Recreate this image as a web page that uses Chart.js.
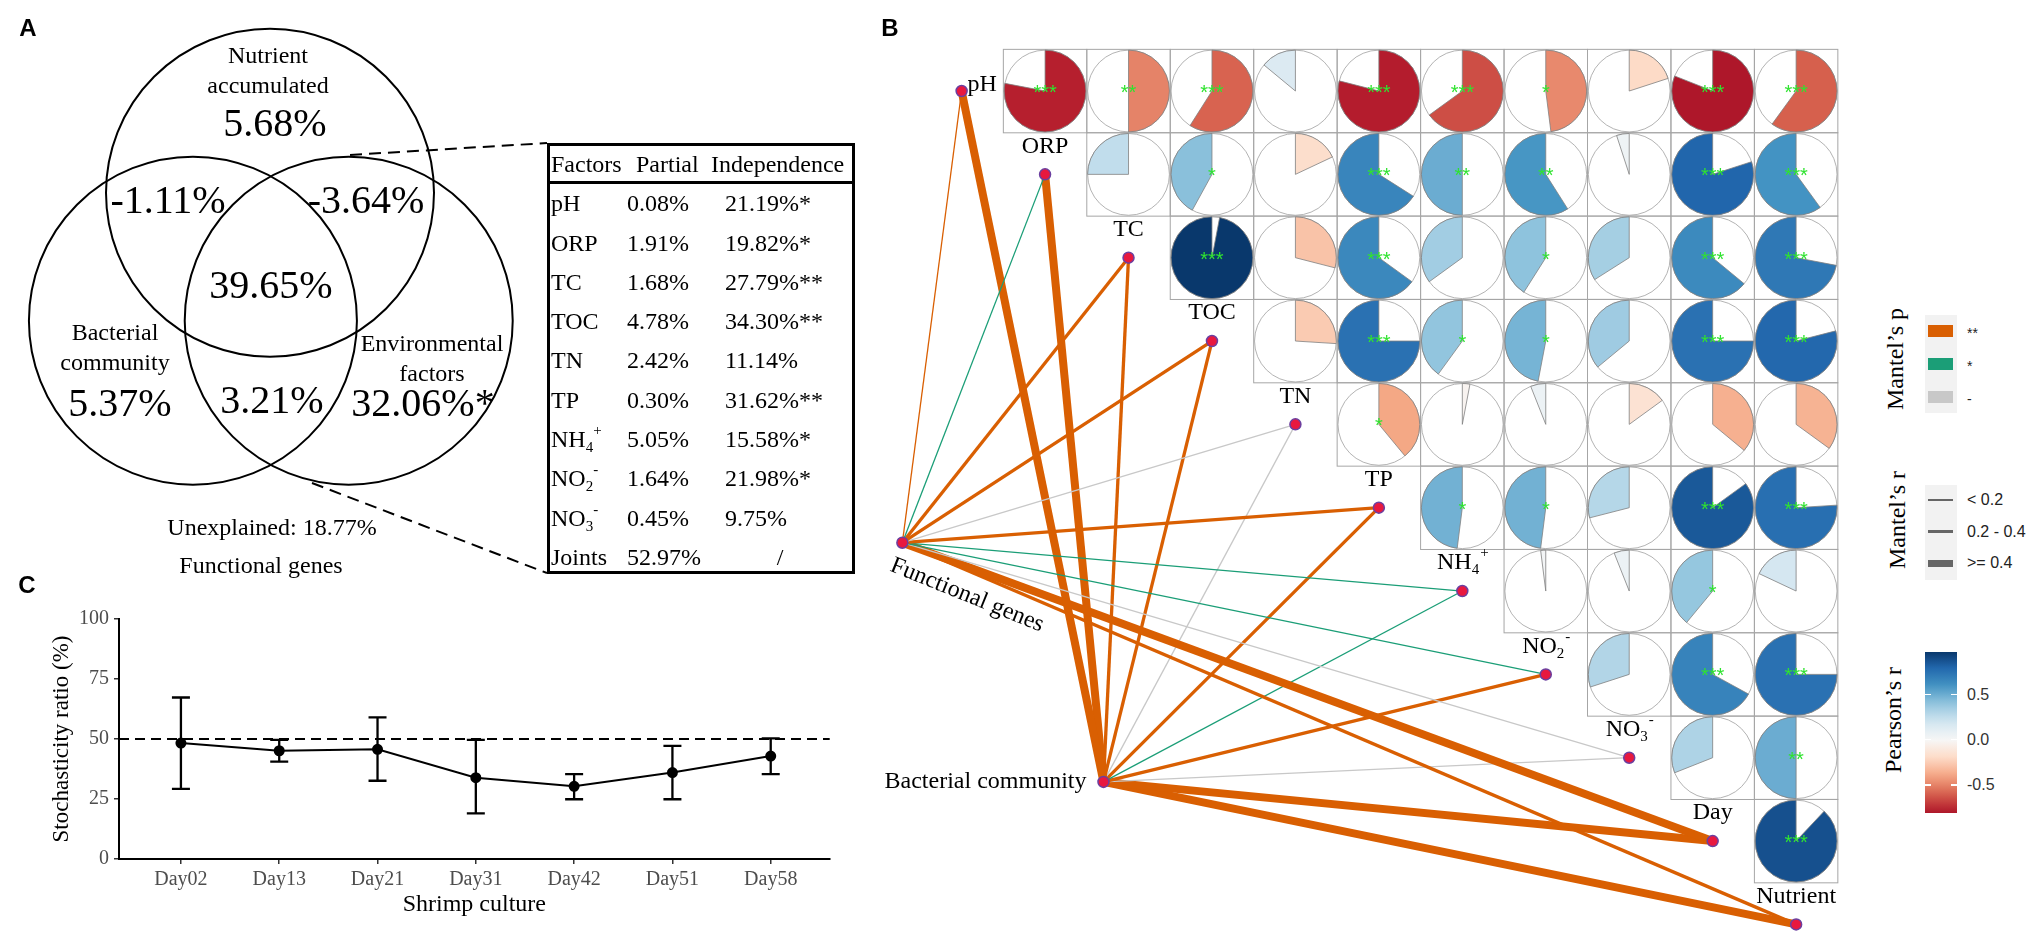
<!doctype html>
<html lang="en">
<head>
<meta charset="utf-8" />
<title>Variation partitioning, Mantel network and stochasticity ratio</title>
<script src="https://cdn.jsdelivr.net/npm/chart.js@4.4.1/dist/chart.umd.min.js"></script>
<style>
  * { box-sizing: border-box; }
  html, body { margin: 0; padding: 0; background: #fff; }
  body {
    width: 2033px; height: 937px; position: relative; overflow: hidden;
    font-family: "Liberation Serif", "Times New Roman", serif; color: #000;
  }
  canvas { position: absolute; }
  .t { position: absolute; white-space: nowrap; line-height: 1; z-index: 2; }
  .c { transform: translate(-50%, -50%); }
  .l { transform: translate(0, -50%); }
  .panel { font-family: "Liberation Sans", Arial, sans-serif; font-weight: bold; font-size: 24px; }
  .lab { font-size: 24px; }
  .big { font-size: 40px; }
  sub, sup { font-size: 15px; line-height: 0; position: relative; vertical-align: baseline; }
  sub { top: 5px; }
  sup { top: -12px; }
  .box { position: absolute; z-index: 1; }
  .rot { transform: translate(-50%, -50%) rotate(-90deg); font-size: 24px; }
  .lgtxt { font-family: "Liberation Sans", Arial, sans-serif; color: #222; }
</style>
</head>
<body>
<canvas id="venn" width="560" height="600" style="left:0;top:0"></canvas>
<canvas id="chartC" width="850" height="347" style="left:0;top:590px"></canvas>
<canvas id="chartB" width="1030" height="937" style="left:840px;top:0"></canvas>
<div id="overlay"></div>

<script>
// ---------- data ----------
// panel A: variation partitioning of functional genes
const vennSets = ["Nutrient<br>accumulated", "Bacterial<br>community", "Environmental<br>factors"];
const vennUnique = ["5.68%", "5.37%", "32.06%*"];
const vennPairs = ["-1.11%", "-3.64%", "3.21%"]; // N&B, N&E, B&E
const vennAll = "39.65%";
const unexplained = "Unexplained: 18.77%";
const responseName = "Functional genes";

const tableHead = ["Factors", "Partial", "Independence"];
const factorNames = ["pH", "ORP", "TC", "TOC", "TN", "TP", "NH4+", "NO2-", "NO3-", "Joints"];
const partialPct = ["0.08%", "1.91%", "1.68%", "4.78%", "2.42%", "0.30%", "5.05%", "1.64%", "0.45%", "52.97%"];
const independencePct = ["21.19%*", "19.82%*", "27.79%**", "34.30%**", "11.14%", "31.62%**", "15.58%*", "21.98%*", "9.75%", "/"];

// panel B: Pearson matrix (row var vs later vars) and Mantel links
const envVars = ["pH", "ORP", "TC", "TOC", "TN", "TP", "NH4+", "NO2-", "NO3-", "Day", "Nutrient"];
const corrR = [
  [-0.78, -0.50, -0.59, 0.14, -0.79, -0.65, -0.48, -0.20, -0.81, -0.60],
  [0.25, 0.42, -0.18, 0.66, 0.50, 0.59, 0.05, 0.80, 0.60],
  [0.97, -0.29, 0.65, 0.35, 0.41, 0.34, 0.64, 0.72],
  [-0.26, 0.75, 0.40, 0.47, 0.36, 0.75, 0.79],
  [-0.39, -0.03, 0.06, -0.15, -0.36, -0.35],
  [0.48, 0.48, 0.29, 0.85, 0.76],
  [0.02, 0.06, 0.39, 0.18],
  [0.30, 0.67, 0.75],
  [0.31, 0.50],
  [0.88]
];
const corrSig = [
  ["***", "**", "***", "", "***", "***", "*", "", "***", "***"],
  ["", "*", "", "***", "**", "**", "", "***", "***"],
  ["***", "", "***", "", "*", "", "***", "***"],
  ["", "***", "*", "*", "", "***", "***"],
  ["*", "", "", "", "", ""],
  ["*", "*", "", "***", "***"],
  ["", "", "*", ""],
  ["", "***", "***"],
  ["", "**"],
  ["***"]
];
const mantelFrom = ["Functional genes", "Bacterial community"];
const mantelP = [
  ["**", "*", "**", "**", "-", "**", "*", "*", "-", "**", "**"],
  ["**", "**", "**", "**", "-", "**", "*", "**", "-", "**", "**"]
];
const mantelR = [
  ["< 0.2", "< 0.2", "0.2 - 0.4", "0.2 - 0.4", "< 0.2", "0.2 - 0.4", "< 0.2", "< 0.2", "< 0.2", ">= 0.4", "0.2 - 0.4"],
  [">= 0.4", ">= 0.4", "0.2 - 0.4", "0.2 - 0.4", "< 0.2", "0.2 - 0.4", "< 0.2", "0.2 - 0.4", "< 0.2", ">= 0.4", ">= 0.4"]
];
const pLevels = ["**", "*", "-"];
const rLevels = ["< 0.2", "0.2 - 0.4", ">= 0.4"];
const pearsonTicks = [0.5, 0, -0.5];

// panel C: stochasticity ratio
const dayLabels = ["Day02", "Day13", "Day21", "Day31", "Day42", "Day51", "Day58"];
const stochMean = [48.3, 45.1, 45.7, 33.9, 30.3, 36.0, 42.9];
const stochLow = [29.2, 40.6, 32.6, 19.0, 24.9, 24.9, 35.4];
const stochHigh = [67.3, 49.6, 59.0, 49.6, 35.4, 47.1, 50.3];
const neutralRef = 50;
const yTicks = [0, 25, 50, 75, 100];

// ---------- styles ----------
const SERIF = '"Liberation Serif", "Times New Roman", serif';
const SANS = '"Liberation Sans", Arial, sans-serif';
const pColor = { "**": "#D95F02", "*": "#1B9E77", "-": "#C8C8C8" };
const rWidth = { "< 0.2": 1.3, "0.2 - 0.4": 3.3, ">= 0.4": 8 };
const rdbuStops = ["#67001F", "#B2182B", "#D6604D", "#F4A582", "#FDDBC7", "#F7F7F7",
  "#D1E5F0", "#92C5DE", "#4393C3", "#2166AC", "#053061"];

function hexRgb(h) {
  const n = parseInt(h.slice(1), 16);
  return [(n >> 16) & 255, (n >> 8) & 255, n & 255];
}
function rdbu(v) {
  const t = (Math.max(-1, Math.min(1, v)) + 1) / 2 * 10;
  const i = Math.min(9, Math.floor(t));
  const f = t - i;
  const a = hexRgb(rdbuStops[i]), b = hexRgb(rdbuStops[i + 1]);
  return "rgb(" + a.map((c, k) => Math.round(c + (b[k] - c) * f)).join(",") + ")";
}
function chemParts(name) {
  const m = name.match(/^([A-Za-z]+?)(\d?)([+-]?)$/);
  return m ? { base: m[1], sub: m[2], sup: m[3] } : { base: name, sub: "", sup: "" };
}
function chemHTML(name) {
  const p = chemParts(name);
  return p.base + (p.sub ? "<sub>" + p.sub + "</sub>" : "") + (p.sup ? "<sup>" + p.sup + "</sup>" : "");
}

// ---------- html text ----------
const overlay = document.getElementById("overlay");
function place(html, x, y, cls, style) {
  const d = document.createElement("div");
  d.className = "t " + cls;
  d.style.left = x + "px";
  d.style.top = y + "px";
  if (style) d.style.cssText += style;
  d.innerHTML = html;
  overlay.appendChild(d);
  return d;
}
function box(x, y, w, h, style) {
  const d = document.createElement("div");
  d.className = "box";
  d.style.cssText = `left:${x}px;top:${y}px;width:${w}px;height:${h}px;` + style;
  overlay.appendChild(d);
}

place("A", 28, 28, "c panel");
place("B", 890, 28, "c panel");
place("C", 27, 585, "c panel");

// venn labels
const [nSet, bSet, eSet] = vennSets;
place(nSet, 268, 70, "c lab", "text-align:center;line-height:30px");
place(vennUnique[0], 275, 123, "c big");
place(bSet, 115, 347, "c lab", "text-align:center;line-height:30px");
place(vennUnique[1], 120, 403, "c big");
place(eSet, 432, 358, "c lab", "text-align:center;line-height:30px");
place(vennUnique[2], 423, 403, "c big");
place(vennPairs[0], 168, 200, "c big");
place(vennPairs[1], 366, 200, "c big");
place(vennPairs[2], 272, 400, "c big");
place(vennAll, 271, 285, "c big");
place(unexplained, 272, 527, "c lab");
place(responseName, 261, 565, "c lab");

// table
box(547, 143, 308, 431, "border:3px solid #000;");
box(547, 181, 308, 3, "background:#000;");
place(tableHead[0], 551, 164, "l lab");
place(tableHead[1], 636, 164, "l lab");
place(tableHead[2], 711, 164, "l lab");
factorNames.forEach((f, k) => {
  const y = 203.2 + 39.3 * k;
  place(chemHTML(f), 551, y, "l lab");
  place(partialPct[k], 627, y, "l lab");
  if (independencePct[k] === "/") place("/", 780, y, "c lab");
  else place(independencePct[k], 725, y, "l lab");
});

// legends of panel B
place("Mantel’s p", 1895, 359, "rot");
box(1925, 315, 32, 98, "background:#F2F2F2;");
pLevels.forEach((lv, i) => {
  const cy = 331 + 32.8 * i;
  box(1928, cy - 6, 25, 12, "background:" + pColor[lv] + ";");
  place(lv, 1967, cy + 2, "l lgtxt", "font-size:14px;");
});
place("Mantel’s r", 1897, 520, "rot");
box(1925, 485, 32, 95, "background:#F2F2F2;");
rLevels.forEach((lv, i) => {
  const cy = 500 + 31.5 * i;
  const w = Math.min(rWidth[lv], 7);
  box(1928, cy - w / 2, 25, w, "background:#666;");
  place(lv.replace(">=", "&gt;=").replace("<", "&lt;"), 1967, cy, "l lgtxt", "font-size:16px;");
});

const allR = corrR.flat();
const rMin = Math.min(...allR), rMax = Math.max(...allR);
const barTop = 652, barH = 161;
const grad = [];
for (let i = 0; i <= 20; i++) {
  const v = rMax - (rMax - rMin) * i / 20;
  grad.push(rdbu(v) + " " + (i * 5) + "%");
}
place("Pearson’s r", 1893, 720, "rot");
box(1925, barTop, 32, barH, "background:linear-gradient(to bottom," + grad.join(",") + ");");
pearsonTicks.forEach(v => {
  const y = barTop + (rMax - v) / (rMax - rMin) * barH;
  box(1925, y - 0.5, 6, 1.2, "background:#fff;z-index:3;");
  box(1951, y - 0.5, 6, 1.2, "background:#fff;z-index:3;");
  place(v.toFixed(1), 1967, y, "l lgtxt", "font-size:16px;color:#333;");
});

// ---------- panel A: venn circles ----------
const VENN_R = 164, VENN_OX = 270, VENN_OY = 278;   // layout in px
const vennCenters = [{ x: 0, y: -0.52 }, { x: -0.47, y: 0.26 }, { x: 0.48, y: 0.26 }]; // in radii
const zoomLinks = [
  [{ x: 0.488, y: -0.75 }, { x: 1.689, y: -0.823 }],
  [{ x: 0.256, y: 1.25 }, { x: 1.689, y: 1.799 }]
];
const vennCanvas = document.getElementById("venn");
new Chart(vennCanvas, {
  type: "scatter",
  data: {
    datasets: [
      {
        data: vennCenters,
        pointRadius: (c) => c.chart.scales.x.getPixelForValue(1) - c.chart.scales.x.getPixelForValue(0),
        pointBackgroundColor: "rgba(0,0,0,0)",
        pointBorderColor: "#000",
        pointBorderWidth: 2,
        clip: false
      },
      ...zoomLinks.map(seg => ({
        data: seg, showLine: true, borderColor: "#000", borderWidth: 2,
        borderDash: [12, 7], pointRadius: 0, clip: false
      }))
    ]
  },
  options: {
    responsive: false, animation: false, events: [],
    layout: { padding: 0 },
    plugins: { legend: { display: false }, tooltip: { enabled: false } },
    scales: {
      x: { type: "linear", display: false, min: -VENN_OX / VENN_R, max: (vennCanvas.width - VENN_OX) / VENN_R },
      y: { type: "linear", display: false, reverse: true, min: -VENN_OY / VENN_R, max: (vennCanvas.height - VENN_OY) / VENN_R }
    }
  }
});

// ---------- panel C ----------
const errorBars = {
  id: "errorBars",
  beforeDatasetsDraw(chart) {
    const { ctx, chartArea, scales: { x, y } } = chart;
    ctx.save();
    ctx.strokeStyle = "#000";
    ctx.lineWidth = 2;
    ctx.setLineDash([10, 6]);
    const yr = y.getPixelForValue(neutralRef);
    ctx.beginPath();
    ctx.moveTo(chartArea.left, yr);
    ctx.lineTo(chartArea.right, yr);
    ctx.stroke();
    ctx.setLineDash([]);
    ctx.lineWidth = 2.3;
    stochMean.forEach((_, i) => {
      const px = x.getPixelForValue(i);
      const lo = y.getPixelForValue(stochLow[i]), hi = y.getPixelForValue(stochHigh[i]);
      ctx.beginPath();
      ctx.moveTo(px, lo); ctx.lineTo(px, hi);
      ctx.moveTo(px - 9, lo); ctx.lineTo(px + 9, lo);
      ctx.moveTo(px - 9, hi); ctx.lineTo(px + 9, hi);
      ctx.stroke();
    });
    ctx.restore();
  }
};
const axisGrid = { drawOnChartArea: false, drawTicks: true, tickLength: 5, color: "#333", lineWidth: 1.5 };
new Chart(document.getElementById("chartC"), {
  type: "line",
  data: {
    datasets: [{
      data: stochMean.map((v, i) => ({ x: i, y: v })),
      borderColor: "#000", borderWidth: 2, tension: 0,
      pointRadius: 4.5, pointBackgroundColor: "#000", pointBorderColor: "#000", clip: false
    }]
  },
  options: {
    responsive: false, animation: false, events: [],
    layout: { padding: { top: 29, right: 20.3, left: 0, bottom: 0 } },
    plugins: { legend: { display: false }, tooltip: { enabled: false } },
    scales: {
      x: {
        type: "linear", min: -0.63, max: 6.6,
        afterBuildTicks: (s) => { s.ticks = dayLabels.map((_, i) => ({ value: i })); },
        afterFit: (s) => { s.height = 78; },
        ticks: { callback: (v) => dayLabels[v], color: "#4d4d4d", font: { family: SERIF, size: 20 }, padding: 4, maxRotation: 0, autoSkip: false },
        grid: axisGrid,
        border: { display: true, color: "#000", width: 2 },
        title: { display: true, text: "Shrimp culture", color: "#000", font: { family: SERIF, size: 24, lineHeight: 1.2 }, padding: { top: 0, bottom: 17.6 } }
      },
      y: {
        type: "linear", min: 0, max: 100,
        afterBuildTicks: (s) => { s.ticks = yTicks.map(v => ({ value: v })); },
        afterFit: (s) => { s.width = 119; },
        ticks: { color: "#4d4d4d", font: { family: SERIF, size: 20 }, padding: 5 },
        grid: axisGrid,
        border: { display: true, color: "#000", width: 2 },
        title: { display: true, text: "Stochasticity ratio (%)", color: "#000", font: { family: SERIF, size: 23, lineHeight: 1.2 }, padding: { top: 48, bottom: 0 } }
      }
    }
  },
  plugins: [errorBars]
});

// ---------- panel B ----------
const CELL = 84.6, GRID_X = 998.5, GRID_Y = 43;   // matrix origin in page px
const B_LEFT = 840, B_TOP = 0;
const fromPos = [{ x: -1.21, y: 5.92 }, { x: 1.20, y: 8.79 }]; // network layout, cell units
const envPos = envVars.map((_, k) => ({ x: k - 0.5, y: k + 0.5 }));

function drawChem(ctx, name, x, y, align) {
  const p = chemParts(name);
  ctx.font = "24px " + SERIF;
  const wb = ctx.measureText(p.base).width;
  ctx.font = "15px " + SERIF;
  const ws = p.sub ? ctx.measureText(p.sub).width : 0;
  const wp = p.sup ? ctx.measureText(p.sup).width : 0;
  const total = wb + ws + wp;
  const x0 = align === "left" ? x : align === "right" ? x - total : x - total / 2;
  const base = y + 8;
  ctx.textAlign = "left";
  ctx.textBaseline = "alphabetic";
  ctx.fillStyle = "#000";
  ctx.font = "24px " + SERIF;
  ctx.fillText(p.base, x0, base);
  ctx.font = "15px " + SERIF;
  if (p.sub) ctx.fillText(p.sub, x0 + wb, base + 5);
  if (p.sup) ctx.fillText(p.sup, x0 + wb + ws + 1, base - 12);
}

const matrixPlugin = {
  id: "matrix",
  beforeDatasetsDraw(chart) {
    const { ctx, scales: { x, y } } = chart;
    const unit = x.getPixelForValue(1) - x.getPixelForValue(0);
    const R = unit * 0.49;
    ctx.save();
    corrR.forEach((row, r) => row.forEach((v, i) => {
      const c = r + i;
      const x0 = x.getPixelForValue(c), y0 = y.getPixelForValue(r);
      const cx = x.getPixelForValue(c + 0.5), cy = y.getPixelForValue(r + 0.5);
      ctx.strokeStyle = "#a6a6a6";
      ctx.lineWidth = 1;
      ctx.strokeRect(x0, y0, unit, unit);
      ctx.beginPath();
      ctx.arc(cx, cy, R, 0, Math.PI * 2);
      ctx.strokeStyle = "#a0a0a0";
      ctx.lineWidth = 0.8;
      ctx.stroke();
      const start = -Math.PI / 2, sweep = Math.abs(v) * Math.PI * 2;
      ctx.beginPath();
      ctx.moveTo(cx, cy);
      if (v >= 0) ctx.arc(cx, cy, R, start, start - sweep, true);
      else ctx.arc(cx, cy, R, start, start + sweep, false);
      ctx.closePath();
      ctx.fillStyle = rdbu(v);
      ctx.fill();
      ctx.strokeStyle = "#808080";
      ctx.lineWidth = 0.8;
      ctx.stroke();
      const s = corrSig[r][i];
      if (s) {
        ctx.font = "20px " + SANS;
        ctx.textAlign = "center";
        ctx.textBaseline = "alphabetic";
        ctx.fillStyle = "#2fe32f";
        ctx.fillText(s, cx, cy + 8);
      }
    }));
    ctx.restore();
  },
  afterDatasetsDraw(chart) {
    const { ctx, scales: { x, y } } = chart;
    const unit = x.getPixelForValue(1) - x.getPixelForValue(0);
    ctx.save();
    envVars.forEach((name, k) => {
      const px = x.getPixelForValue(envPos[k].x), py = y.getPixelForValue(envPos[k].y);
      if (k === 0) drawChem(ctx, name, px + 6, py - 8, "left");
      else drawChem(ctx, name, px, py - 0.355 * unit, "center");
    });
    // response labels
    const fg = { x: x.getPixelForValue(fromPos[0].x), y: y.getPixelForValue(fromPos[0].y) };
    ctx.fillStyle = "#000";
    ctx.font = "24px " + SERIF;
    ctx.save();
    ctx.translate(fg.x - 11, fg.y + 22);
    ctx.rotate(22 * Math.PI / 180);
    ctx.textAlign = "left";
    ctx.textBaseline = "middle";
    ctx.fillText(mantelFrom[0], 0, 0);
    ctx.restore();
    const bc = { x: x.getPixelForValue(fromPos[1].x), y: y.getPixelForValue(fromPos[1].y) };
    ctx.textAlign = "right";
    ctx.textBaseline = "middle";
    ctx.fillText(mantelFrom[1], bc.x - 17, bc.y);
    ctx.restore();
  }
};

const edgeSets = [];
mantelFrom.forEach((_, f) => {
  envVars.forEach((__, k) => {
    edgeSets.push({
      data: [fromPos[f], envPos[k]],
      showLine: true,
      borderColor: pColor[mantelP[f][k]],
      borderWidth: rWidth[mantelR[f][k]],
      pointRadius: 0,
      clip: false
    });
  });
});

const bCanvas = document.getElementById("chartB");
new Chart(bCanvas, {
  type: "scatter",
  data: {
    datasets: [
      {
        data: [...envPos, ...fromPos],
        pointRadius: 5.5,
        pointBackgroundColor: "#e8183f",
        pointBorderColor: "#6b3fa0",
        pointBorderWidth: 1.5,
        clip: false
      },
      ...edgeSets
    ]
  },
  options: {
    responsive: false, animation: false, events: [],
    layout: { padding: 0 },
    plugins: { legend: { display: false }, tooltip: { enabled: false } },
    scales: {
      x: { type: "linear", display: false, min: (B_LEFT - GRID_X) / CELL, max: (B_LEFT + bCanvas.width - GRID_X) / CELL },
      y: { type: "linear", display: false, reverse: true, min: (B_TOP - GRID_Y) / CELL, max: (B_TOP + bCanvas.height - GRID_Y) / CELL }
    }
  },
  plugins: [matrixPlugin]
});
</script>
</body>
</html>
